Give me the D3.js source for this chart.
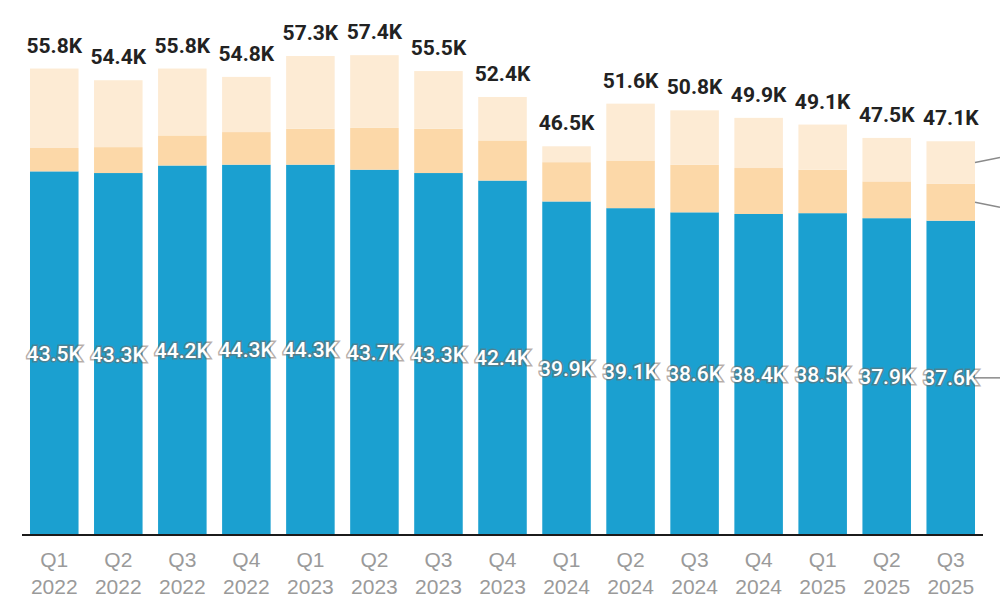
<!DOCTYPE html>
<html>
<head>
<meta charset="utf-8">
<script src="https://cdn.jsdelivr.net/npm/d3@7"></script>
<style>
  body { margin: 0; background: #fff; }
  svg { display: block; font-family: Roboto, "Noto Sans", sans-serif; }
</style>
</head>
<body>
<svg id="chart" width="1000" height="615"></svg>
<script>
// quarters along the x axis
const quarters = ['Q1', 'Q2', 'Q3', 'Q4', 'Q1', 'Q2', 'Q3', 'Q4', 'Q1', 'Q2', 'Q3', 'Q4', 'Q1', 'Q2', 'Q3'];
const years = ['2022', '2022', '2022', '2022', '2023', '2023', '2023', '2023', '2024', '2024', '2024', '2024', '2025', '2025', '2025'];

// stacked values, in thousands (bottom -> top)
const baseValues = [43.5, 43.3, 44.2, 44.3, 44.3, 43.7, 43.3, 42.4, 39.9, 39.1, 38.6, 38.4, 38.5, 37.9, 37.6];
const middleValues = [2.8, 3.1, 3.6, 3.9, 4.3, 5.0, 5.3, 4.8, 4.7, 5.7, 5.7, 5.5, 5.2, 4.4, 4.4];
const totals = [55.8, 54.4, 55.8, 54.8, 57.3, 57.4, 55.5, 52.4, 46.5, 51.6, 50.8, 49.9, 49.1, 47.5, 47.1];

const colors = ['#1ba0d0', '#fcd8a8', '#fdebd4'];

const width = 1000, height = 615;
const baseline = 535;

const rows = quarters.map((q, i) => ({
  key: q + ' ' + years[i],
  quarter: q,
  year: years[i],
  base: baseValues[i],
  middle: middleValues[i],
  top: +(totals[i] - baseValues[i] - middleValues[i]).toFixed(1),
  total: totals[i],
}));

const svg = d3.select('#chart');

const x = d3.scaleBand()
    .domain(rows.map(d => d.key))
    .range([14.5, 990.5])
    .paddingInner(0.242)
    .paddingOuter(0.242);

const y = d3.scaleLinear()
    .domain([0, 64])
    .range([baseline, 0]);

const stack = d3.stack().keys(['base', 'middle', 'top']);
const series = stack(rows);

// bars
svg.append('g')
    .selectAll('g')
    .data(series)
    .join('g')
    .attr('fill', (d, i) => colors[i])
    .selectAll('rect')
    .data(d => d)
    .join('rect')
    .attr('x', d => x(d.data.key))
    .attr('y', d => y(d[1]))
    .attr('width', x.bandwidth())
    .attr('height', d => y(d[0]) - y(d[1]));

// leader lines toward the (cropped) legend on the right
const last = series.map(s => s[s.length - 1]);
const lastX = x(rows[rows.length - 1].key) + x.bandwidth();
const leaderShift = [0, 5, -5];
svg.append('g')
    .selectAll('line')
    .data(last)
    .join('line')
    .attr('x1', lastX)
    .attr('y1', d => (y(d[0]) + y(d[1])) / 2)
    .attr('x2', width)
    .attr('y2', (d, i) => (y(d[0]) + y(d[1])) / 2 + leaderShift[i])
    .attr('stroke', '#8a8a8a')
    .attr('stroke-width', 1.5);

// values inside the blue segment
svg.append('g')
    .selectAll('text')
    .data(rows)
    .join('text')
    .attr('x', d => x(d.key) + x.bandwidth() / 2)
    .attr('y', d => (y(0) + y(d.base)) / 2)
    .attr('dy', '0.36em')
    .attr('text-anchor', 'middle')
    .attr('font-size', 21)
    .attr('font-weight', 500)
    .attr('fill', '#fff')
    .attr('stroke', 'rgba(120,105,95,0.55)')
    .attr('stroke-width', 3)
    .attr('paint-order', 'stroke')
    .text(d => d.base.toFixed(1) + 'K');

// totals above the bars
svg.append('g')
    .selectAll('text')
    .data(rows)
    .join('text')
    .attr('x', d => x(d.key) + x.bandwidth() / 2)
    .attr('y', d => y(d.total) - 16)
    .attr('text-anchor', 'middle')
    .attr('font-size', 21)
    .attr('font-weight', 700)
    .attr('fill', '#222')
    .text(d => d.total.toFixed(1) + 'K');

// x axis
const axis = svg.append('g')
    .attr('transform', `translate(0,${baseline})`)
    .call(d3.axisBottom(x).tickSize(0).tickFormat(''));
axis.select('.domain').remove();
axis.append('line')
    .attr('x1', 22)
    .attr('x2', 983)
    .attr('stroke', '#1b1b1b')
    .attr('stroke-width', 2);

axis.selectAll('.tick text').remove();
axis.selectAll('.tick')
    .append('text')
    .attr('text-anchor', 'middle')
    .attr('font-size', 21)
    .attr('fill', '#9a9a9a')
    .each(function (key) {
      const r = rows.find(d => d.key === key);
      const t = d3.select(this);
      t.append('tspan').attr('x', 0).attr('y', 32).text(r.quarter);
      t.append('tspan').attr('x', 0).attr('y', 59).text(r.year);
    });
</script>
</body>
</html>
